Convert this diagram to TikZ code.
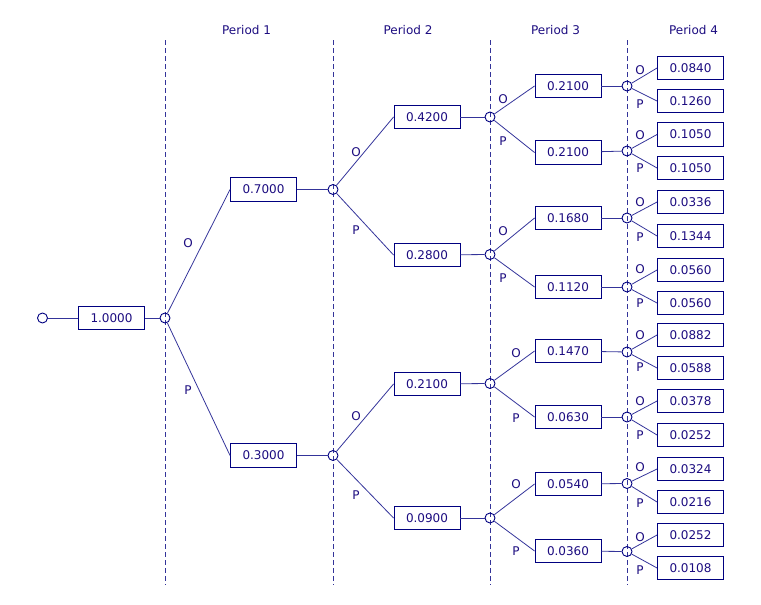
\documentclass[tikz,border=0pt]{standalone}
\usepackage{fontspec}
\setmainfont{DejaVu Sans}
\usepackage{xcolor}
\definecolor{treeNavy}{HTML}{000080}
\definecolor{branchBlue}{HTML}{34349A}
\definecolor{labelInk}{HTML}{1C0C80}
\usetikzlibrary{positioning}
\tikzset{
    % Base text style
    tree text/.style={
        font=\fontsize{12}{14}\selectfont,
        text=labelInk,
    },
    % Probability boxes
    probbox/.style={
        tree text,
        rectangle,
        draw=treeNavy,
        line width=0.9pt,
        minimum width=66pt,
        minimum height=23.5pt,
        inner sep=0pt,
    },
    % Chance nodes - small open circles
    chance/.style={
        circle,
        draw=treeNavy,
        line width=0.9pt,
        minimum size=10pt,
        inner sep=0pt,
    },
    % Connectors
    branch/.style={
        draw=branchBlue,
        line width=0.8pt,
    },
    % Period separators
    divider/.style={
        draw=treeNavy!80,
        line width=0.8pt,
        dash pattern=on 5pt off 3pt,
    },
    % O / P labels
    choice/.style={
        tree text,
        inner sep=0pt,
    },
}

\begin{document}
\begin{tikzpicture}[x=1pt, y=-1pt]
    \useasboundingbox (0,0) rectangle (761,605);

    % period separators
    \draw [divider] (165,40) -- (165,585);
    \draw [divider] (333,40) -- (333,585);
    \draw [divider] (490,40) -- (490,585);
    \draw [divider] (627,40) -- (627,585);

    \node (per1) [tree text] at (246.5,30) {Period 1};
    \node (per2) [tree text] at (408,30) {Period 2};
    \node (per3) [tree text] at (555.5,30) {Period 3};
    \node (per4) [tree text] at (693.5,30) {Period 4};

    % root
    \node (start) [chance] at (42.5,318) {};
    \node (r) [probbox] at (111.5,318) {1.0000};
    \node (cr) [chance] at (165,318) {};

    % period 1
    \node (o) [probbox] at (263.5,189.5) {0.7000};
    \node (p) [probbox] at (263.5,455.5) {0.3000};
    \node (co) [chance] at (333,189.5) {};
    \node (cp) [chance] at (333,455.5) {};

    % period 2
    \node (oo) [probbox] at (427,117) {0.4200};
    \node (op) [probbox] at (427,255) {0.2800};
    \node (po) [probbox] at (427,384) {0.2100};
    \node (pp) [probbox] at (427,518) {0.0900};
    \node (coo) [chance] at (490,117) {};
    \node (cop) [chance] at (490,254.5) {};
    \node (cpo) [chance] at (490,383.5) {};
    \node (cpp) [chance] at (490,518) {};

    % period 3
    \node (ooo) [probbox] at (568,86) {0.2100};
    \node (oop) [probbox] at (568,152.5) {0.2100};
    \node (opo) [probbox] at (568,218) {0.1680};
    \node (opp) [probbox] at (568,287) {0.1120};
    \node (poo) [probbox] at (568,351) {0.1470};
    \node (pop) [probbox] at (568,417) {0.0630};
    \node (ppo) [probbox] at (568,484) {0.0540};
    \node (ppp) [probbox] at (568,551) {0.0360};
    \node (cooo) [chance] at (627,86) {};
    \node (coop) [chance] at (627,151) {};
    \node (copo) [chance] at (627,218) {};
    \node (copp) [chance] at (627,287) {};
    \node (cpoo) [chance] at (627,352) {};
    \node (cpop) [chance] at (627,417) {};
    \node (cppo) [chance] at (627,483.5) {};
    \node (cppp) [chance] at (627,551.5) {};

    % period 4
    \node (oooo) [probbox] at (690.5,68) {0.0840};
    \node (ooop) [probbox] at (690.5,101) {0.1260};
    \node (oopo) [probbox] at (690.5,134.5) {0.1050};
    \node (oopp) [probbox] at (690.5,168) {0.1050};
    \node (opoo) [probbox] at (690.5,202) {0.0336};
    \node (opop) [probbox] at (690.5,236) {0.1344};
    \node (oppo) [probbox] at (690.5,270) {0.0560};
    \node (oppp) [probbox] at (690.5,303) {0.0560};
    \node (pooo) [probbox] at (690.5,335) {0.0882};
    \node (poop) [probbox] at (690.5,368) {0.0588};
    \node (popo) [probbox] at (690.5,401) {0.0378};
    \node (popp) [probbox] at (690.5,435) {0.0252};
    \node (ppoo) [probbox] at (690.5,469) {0.0324};
    \node (ppop) [probbox] at (690.5,502) {0.0216};
    \node (pppo) [probbox] at (690.5,535) {0.0252};
    \node (pppp) [probbox] at (690.5,568) {0.0108};

    % O / P labels
    \node (lo) [choice] at (188,243) {O};
    \node (lp) [choice] at (188,390) {P};
    \node (loo) [choice] at (356,152) {O};
    \node (lop) [choice] at (356,230) {P};
    \node (lpo) [choice] at (356,416) {O};
    \node (lpp) [choice] at (356,495) {P};
    \node (looo) [choice] at (503,99) {O};
    \node (loop) [choice] at (503,141) {P};
    \node (lopo) [choice] at (503,231) {O};
    \node (lopp) [choice] at (503,278) {P};
    \node (lpoo) [choice] at (516,353) {O};
    \node (lpop) [choice] at (516,418) {P};
    \node (lppo) [choice] at (516,484) {O};
    \node (lppp) [choice] at (516,551) {P};
    \node (loooo) [choice] at (640,70) {O};
    \node (looop) [choice] at (640,104) {P};
    \node (loopo) [choice] at (640,135) {O};
    \node (loopp) [choice] at (640,168) {P};
    \node (lopoo) [choice] at (640,202) {O};
    \node (lopop) [choice] at (640,237) {P};
    \node (loppo) [choice] at (640,269) {O};
    \node (loppp) [choice] at (640,303) {P};
    \node (lpooo) [choice] at (640,335) {O};
    \node (lpoop) [choice] at (640,367) {P};
    \node (lpopo) [choice] at (640,401) {O};
    \node (lpopp) [choice] at (640,435) {P};
    \node (lppoo) [choice] at (640,467) {O};
    \node (lppop) [choice] at (640,503) {P};
    \node (lpppo) [choice] at (640,537) {O};
    \node (lpppp) [choice] at (640,570) {P};

    % connectors
    \draw [branch] (start) -- (r);
    \draw [branch] (r) -- (cr);
    \draw [branch] (cr) -- (o.west);
    \draw [branch] (cr) -- (p.west);
    \draw [branch] (o) -- (co);
    \draw [branch] (p) -- (cp);
    \draw [branch] (co) -- (oo.west);
    \draw [branch] (co) -- (op.west);
    \draw [branch] (cp) -- (po.west);
    \draw [branch] (cp) -- (pp.west);
    \draw [branch] (oo) -- (coo);
    \draw [branch] (op) -- (cop);
    \draw [branch] (po) -- (cpo);
    \draw [branch] (pp) -- (cpp);
    \draw [branch] (coo) -- (ooo.west);
    \draw [branch] (coo) -- (oop.west);
    \draw [branch] (cop) -- (opo.west);
    \draw [branch] (cop) -- (opp.west);
    \draw [branch] (cpo) -- (poo.west);
    \draw [branch] (cpo) -- (pop.west);
    \draw [branch] (cpp) -- (ppo.west);
    \draw [branch] (cpp) -- (ppp.west);
    \draw [branch] (ooo) -- (cooo);
    \draw [branch] (oop) -- (coop);
    \draw [branch] (opo) -- (copo);
    \draw [branch] (opp) -- (copp);
    \draw [branch] (poo) -- (cpoo);
    \draw [branch] (pop) -- (cpop);
    \draw [branch] (ppo) -- (cppo);
    \draw [branch] (ppp) -- (cppp);
    \draw [branch] (cooo) -- (oooo.west);
    \draw [branch] (cooo) -- (ooop.west);
    \draw [branch] (coop) -- (oopo.west);
    \draw [branch] (coop) -- (oopp.west);
    \draw [branch] (copo) -- (opoo.west);
    \draw [branch] (copo) -- (opop.west);
    \draw [branch] (copp) -- (oppo.west);
    \draw [branch] (copp) -- (oppp.west);
    \draw [branch] (cpoo) -- (pooo.west);
    \draw [branch] (cpoo) -- (poop.west);
    \draw [branch] (cpop) -- (popo.west);
    \draw [branch] (cpop) -- (popp.west);
    \draw [branch] (cppo) -- (ppoo.west);
    \draw [branch] (cppo) -- (ppop.west);
    \draw [branch] (cppp) -- (pppo.west);
    \draw [branch] (cppp) -- (pppp.west);
\end{tikzpicture}
\end{document}
